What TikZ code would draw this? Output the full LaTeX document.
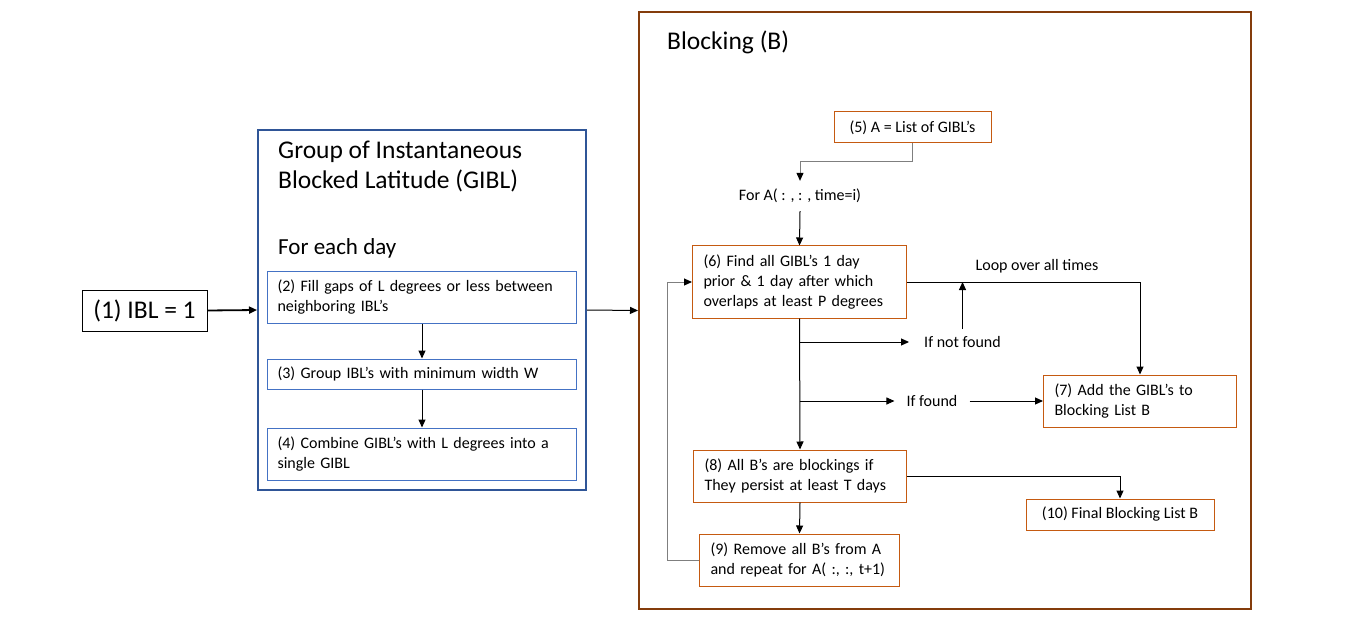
\documentclass[tikz,border=0pt]{standalone}
\usepackage{fontspec}
\setmainfont{Carlito}
\usetikzlibrary{arrows.meta}

\definecolor{gblue}{HTML}{2F5597}
\definecolor{bblue}{HTML}{4472C4}
\definecolor{bbrown}{HTML}{843C0C}
\definecolor{borange}{HTML}{C55A11}
\definecolor{lgray}{HTML}{7F7F7F}

\begin{document}
\begin{tikzpicture}[x=1pt, y=-1pt,
	big/.style={font=\fontsize{25.5}{29.5}\selectfont},
	mid/.style={font=\fontsize{23}{28}\selectfont},
	small/.style={font=\fontsize{16}{20}\selectfont},
	frame/.style={draw=#1, line width=2pt, minimum width=0pt},
	bluebox/.style={small, draw=bblue, line width=1pt, anchor=west, align=left,
		inner xsep=10pt, inner ysep=0pt, text width=289pt},
	obox/.style={small, draw=borange, line width=1pt, fill=white, anchor=west, align=left,
		inner xsep=11pt, inner ysep=0pt, minimum height=52pt},
	label/.style={small, inner ysep=7pt},
	arr/.style={-{Triangle[length=8pt,width=7pt,color=black]}, line width=1pt}
	]
	
	\useasboundingbox (0,0) rectangle (1356,628);
	
	\node[big, draw=black, line width=1pt, minimum width=125pt, minimum height=41pt] (ibl) at (144.5, 310.5) {(1) IBL = 1};
	
	\node[frame=gblue, minimum width=328pt, minimum height=360pt] (gibl) at (422, 310) {};
	\node[big, anchor=west, align=left, inner sep=0pt] (gtitle) at (278, 166.5) {Group of Instantaneous\\Blocked Latitude (GIBL)};
	\node[mid, anchor=west, inner sep=0pt] (day) at (278, 248) {For each day};
	
	\node[bluebox, minimum height=52pt] (fill) at (267, 297) {(2) Fill gaps of L degrees or less between\\neighboring IBL’s};
	\node[bluebox, minimum height=30pt] (grp) at (267, 374) {(3) Group IBL’s with minimum width W};
	\node[bluebox, minimum height=52pt] (comb) at (267, 454) {(4) Combine GIBL’s with L degrees into a\\single GIBL};
	
	\node[frame=bbrown, minimum width=612pt, minimum height=597pt] (blk) at (945, 310.5) {};
	\node[big, anchor=west, inner sep=0pt] (btitle) at (667, 42) {Blocking (B)};
	
	\node[obox, anchor=center, align=center, minimum width=157pt, minimum height=31pt] (lst) at (912.5, 127.5) {(5) A = List of GIBL’s};
	\node[label, inner ysep=8pt] (fora) at (800, 196) {For A( : , : , time=i)};
	\node[obox, minimum height=72pt, text width=192pt] (find) at (692, 282) {(6) Find all GIBL’s 1 day\\prior \& 1 day after which\\overlaps at least P degrees};
	\node[label] (loop) at (1037, 266) {Loop over all times};
	\node[label, inner xsep=15pt] (nf) at (962.5, 342) {If not found};
	\node[label, inner xsep=12pt] (fd) at (932, 401) {If found};
	\node[obox, text width=171pt] (add) at (1043, 401) {(7) Add the GIBL’s to\\Blocking List B};
	\node[obox, text width=191pt] (all) at (693, 476) {(8) All B’s are blockings if\\They persist at least T days};
	\node[obox, anchor=center, align=center, minimum width=188pt, minimum height=31pt] (fin) at (1120, 514.5) {(10) Final Blocking List B};
	\node[obox, text width=178pt] (rem) at (699, 560) {(9) Remove all B’s from A\\and repeat for A( :, :, t+1)};
	
	\draw[arr, line width=1.8pt] (ibl.east) -- (gibl.west);
	\draw[arr] (fill.south) -- (grp.north);
	\draw[arr] (grp.south) -- (comb.north);
	\draw[arr] (gibl.east) -- (blk.west);
	
	\draw[arr, draw=lgray] (lst.south) -- ++(0, 18) -| (fora.north);
	\draw[arr] (fora.south) -- (find.north);
	\draw[arr] (find.east) -| (add.north);
	\draw[arr] (find.south) -- (all.north);
	\draw[arr] (find.south |- nf.west) -- (nf.west);
	\draw[arr] (nf.north) -- (nf.north |- find.east);
	\draw[arr] (find.south |- fd.west) -- (fd.west);
	\draw[arr] (fd.east) -- (add.west);
	\draw[arr] (all.east) -| (fin.north);
	\draw[arr] (all.south) -- (rem.north);
	\draw[arr, draw=lgray] (rem.west) -- ++(-32, 0) |- (find.west);
	
\end{tikzpicture}
\end{document}
